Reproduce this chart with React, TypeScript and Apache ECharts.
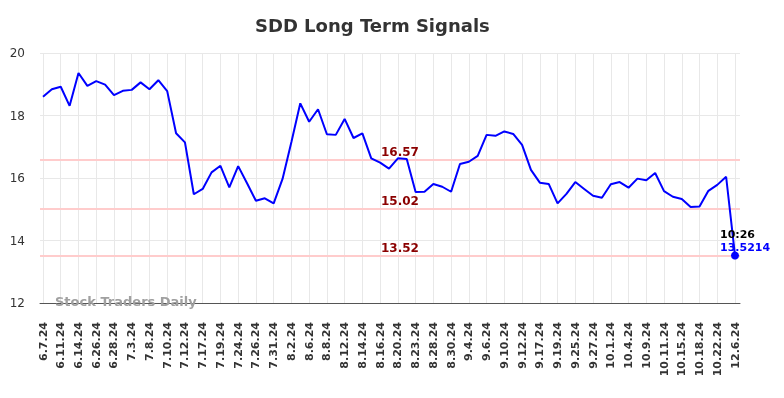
import React, { useEffect, useRef } from "react";
import * as echarts from "echarts";

const dates = [
  "6.7.24", "6.10.24", "6.11.24", "6.12.24", "6.14.24", "6.25.24", "6.26.24", "6.27.24",
  "6.28.24", "7.2.24", "7.3.24", "7.5.24", "7.8.24", "7.9.24", "7.10.24", "7.11.24",
  "7.12.24", "7.16.24", "7.17.24", "7.18.24", "7.19.24", "7.23.24", "7.24.24", "7.25.24",
  "7.26.24", "7.30.24", "7.31.24", "8.1.24", "8.2.24", "8.5.24", "8.6.24", "8.7.24",
  "8.8.24", "8.9.24", "8.12.24", "8.13.24", "8.14.24", "8.15.24", "8.16.24", "8.19.24",
  "8.20.24", "8.22.24", "8.23.24", "8.27.24", "8.28.24", "8.29.24", "8.30.24", "9.3.24",
  "9.4.24", "9.5.24", "9.6.24", "9.9.24", "9.10.24", "9.11.24", "9.12.24", "9.16.24",
  "9.17.24", "9.18.24", "9.19.24", "9.24.24", "9.25.24", "9.26.24", "9.27.24", "9.30.24",
  "10.1.24", "10.3.24", "10.4.24", "10.8.24", "10.9.24", "10.10.24", "10.11.24", "10.14.24",
  "10.15.24", "10.17.24", "10.18.24", "10.21.24", "10.22.24", "10.24.24", "12.6.24",
];

const values = [
  18.6, 18.84, 18.92, 18.31, 19.36, 18.95, 19.1, 18.99,
  18.65, 18.79, 18.82, 19.06, 18.84, 19.13, 18.78, 17.43,
  17.14, 15.48, 15.65, 16.18, 16.39, 15.7, 16.38, 15.83,
  15.27, 15.35, 15.19, 15.97, 17.15, 18.39, 17.8, 18.2,
  17.4, 17.38, 17.89, 17.28, 17.43, 16.63, 16.49, 16.3,
  16.63, 16.61, 15.55, 15.56, 15.81, 15.72, 15.56, 16.45,
  16.52, 16.71, 17.38, 17.35, 17.49, 17.41, 17.06, 16.26,
  15.85, 15.81, 15.19, 15.49, 15.87, 15.65, 15.43, 15.37,
  15.8, 15.87, 15.69, 15.98, 15.93, 16.16, 15.58, 15.4,
  15.33, 15.07, 15.09, 15.59, 15.78, 16.04, 13.5214,
];

const levels = [16.57, 15.02, 13.52];
const yMin = 12;
const yMax = 20;
const yStep = 2;
const lastTime = "10:26";
const lastLabel = "13.5214";
const titleText = "SDD Long Term Signals";
const watermark = "Stock Traders Daily";

export default function App() {
  const ref = useRef<HTMLDivElement>(null);
  useEffect(() => {
    const chart = echarts.init(ref.current!, null, { renderer: "svg" });
    const font = "DejaVu Sans";
    const last = values.length - 1;
    const lineData = values.map((v, i) =>
      i === last
        ? {
            value: v,
            symbol: "circle",
            symbolSize: 8,
            itemStyle: { color: "#0000ff" },
            label: {
              show: true,
              position: [-11, -24],
              align: "left",
              formatter: `{t|${lastTime}}\n{v|${lastLabel}}`,
              rich: {
                t: { color: "#000", fontWeight: "bold", fontSize: 11, fontFamily: font, lineHeight: 13.5 },
                v: { color: "#0000ff", fontWeight: "bold", fontSize: 11, fontFamily: font, lineHeight: 13.5 },
              },
            },
          }
        : v
    );
    chart.setOption({
      animation: false,
      textStyle: { fontFamily: font },
      title: {
        text: titleText,
        left: 255,
        top: 16,
        padding: 0,
        textStyle: { fontSize: 18, fontWeight: "bold", color: "#333", fontFamily: font },
      },
      grid: [
        { left: 43, right: 49, top: 53, bottom: 95 },
        { left: 40, right: 44, top: 53, bottom: 95 },
      ],
      xAxis: [
        {
          type: "category",
          gridIndex: 0,
          data: dates,
          boundaryGap: false,
          axisLine: { show: false },
          axisTick: { show: false },
          axisLabel: {
            interval: 1,
            rotate: 90,
            margin: 19,
            fontSize: 11,
            fontWeight: "bold",
            color: "#333",
            fontFamily: font,
          },
          splitLine: { show: true, interval: 1, lineStyle: { color: "#e8e8e8", width: 1 } },
        },
        {
          type: "value",
          gridIndex: 1,
          min: 0,
          max: 1,
          axisLine: { show: true, onZero: false, lineStyle: { color: "#555", width: 1 } },
          axisTick: { show: false },
          axisLabel: { show: false },
          splitLine: { show: false },
        },
      ],
      yAxis: [
        {
          type: "value",
          gridIndex: 0,
          min: yMin,
          max: yMax,
          interval: yStep,
          axisLine: { show: false },
          axisTick: { show: false },
          axisLabel: { show: false },
          splitLine: { show: false },
        },
        {
          type: "value",
          gridIndex: 1,
          min: yMin,
          max: yMax,
          interval: yStep,
          axisLine: { show: false },
          axisTick: { show: false },
          axisLabel: { margin: 15, fontSize: 12, color: "#333", fontFamily: font },
          splitLine: { show: true, lineStyle: { color: "#e8e8e8", width: 1 } },
        },
      ],
      graphic: [
        {
          type: "text",
          left: 55,
          top: 295,
          z: 10,
          style: {
            text: watermark,
            fill: "#a0a0a0",
            font: `bold 13px ${font}`,
          },
        },
      ],
      series: [
        {
          type: "line",
          xAxisIndex: 1,
          yAxisIndex: 1,
          data: [],
          silent: true,
          markLine: {
            silent: true,
            symbol: ["none", "none"],
            lineStyle: { color: "#ffcccc", width: 2, type: "solid" },
            label: {
              position: "insideMiddleTop",
              distance: 2,
              padding: [0, 0, 0, 20],
              color: "#8b0000",
              fontWeight: "bold",
              fontSize: 12,
              fontFamily: font,
              formatter: (p: any) => Number(p.value).toFixed(2),
            },
            data: levels.map((l) => ({ yAxis: l })),
          },
        },
        {
          type: "line",
          xAxisIndex: 0,
          yAxisIndex: 0,
          data: lineData,
          symbol: "none",
          showSymbol: true,
          lineStyle: { color: "#0000ff", width: 2 },
          itemStyle: { color: "#0000ff" },
          z: 5,
        },
      ],
    });
    return () => chart.dispose();
  }, []);
  return <div ref={ref} style={{ position: "fixed", left: 0, top: 0, width: 784, height: 398 }} />;
}
